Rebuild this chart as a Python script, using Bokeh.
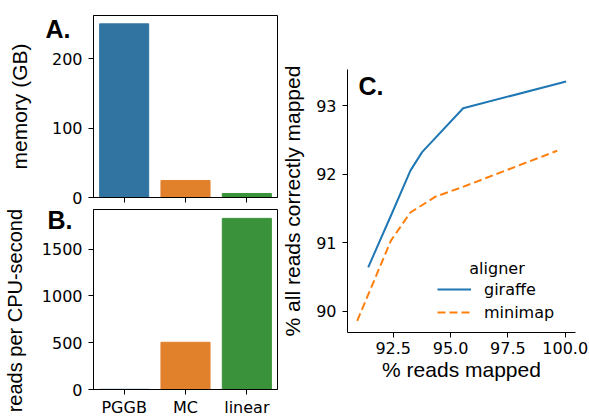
from bokeh.plotting import figure
from bokeh.models import (ColumnDataSource, FactorRange, Range1d, Label, FixedTicker,
                          NumeralTickFormatter, Legend, Title)
from bokeh.layouts import row, column
from bokeh.embed import file_html
from bokeh.resources import INLINE

# ---- data ----
tools = ["PGGB", "MC", "linear"]
memory_gb = [250, 24.5, 5.8]
reads_per_cpu_sec = [2, 505, 1829]
bar_colors = ["#3274a1", "#e1812c", "#3a923a"]

giraffe_mapped = [91.41, 92.46, 93.25, 93.76, 95.55, 100.04]
giraffe_correct = [90.64, 91.44, 92.05, 92.32, 92.96, 93.35]
minimap_mapped = [90.93, 92.40, 93.25, 94.34, 95.51, 99.65]
minimap_correct = [89.86, 91.03, 91.44, 91.67, 91.81, 92.34]

TICK_FONT = "DejaVu Sans"
TICK_SIZE = "16px"
LAB_FONT = "Liberation Sans"
LAB_SIZE = "21px"

LEFT_W = 278


def style_axes(p):
    for ax in p.axis:
        ax.major_label_text_font = TICK_FONT
        ax.major_label_text_font_size = TICK_SIZE
        ax.major_label_text_color = "black"
        ax.axis_label_text_font = LAB_FONT
        ax.axis_label_text_font_size = LAB_SIZE
        ax.axis_label_text_font_style = "normal"
        ax.axis_label_text_color = "black"
        ax.major_tick_in = 0
        ax.major_tick_out = 5
        ax.minor_tick_in = 0
        ax.minor_tick_out = 0
        ax.axis_line_color = "black"
        ax.major_tick_line_color = "black"
    p.grid.visible = False


def panel_letter(txt, offset, standoff):
    return Title(text=txt, align="left", offset=offset, standoff=standoff,
                 vertical_align="bottom", text_font=LAB_FONT, text_font_size="25px",
                 text_font_style="bold", text_color="black")


# ---- panel A ----
srcA = ColumnDataSource(dict(x=tools, top=memory_gb, color=bar_colors))
pA = figure(x_range=FactorRange(*tools), y_range=Range1d(0, 262), title=None,
            width=LEFT_W, height=206, output_backend="svg", toolbar_location=None,
            min_border_left=93, min_border_right=1, min_border_top=15, min_border_bottom=9)
pA.vbar(x="x", top="top", width=0.8, color="color", source=srcA)
style_axes(pA)
pA.yaxis.axis_label = "memory (GB)"
pA.yaxis.ticker = FixedTicker(ticks=[0, 100, 200])
pA.yaxis.major_label_standoff = 6
pA.yaxis.axis_label_standoff = 18
pA.xaxis.major_label_text_font_size = "0px"
pA.xaxis.major_label_text_color = None
pA.xaxis.major_label_standoff = 0
pA.outline_line_color = "black"
pA.outline_line_alpha = 1
pA.add_layout(panel_letter("A.", -48, -54), "above")

# ---- panel B ----
srcB = ColumnDataSource(dict(x=tools, top=reads_per_cpu_sec, color=bar_colors))
pB = figure(x_range=FactorRange(*tools), y_range=Range1d(0, 1924), title=None,
            width=LEFT_W, height=213, output_backend="svg", toolbar_location=None,
            min_border_left=93, min_border_right=1, min_border_top=3, min_border_bottom=27)
pB.vbar(x="x", top="top", width=0.8, color="color", source=srcB)
style_axes(pB)
pB.yaxis.axis_label = "reads per CPU-second\u00a0\u00a0\u00a0\u00a0"
pB.yaxis.axis_label_text_font_size = "20px"
pB.yaxis.ticker = FixedTicker(ticks=[0, 500, 1000, 1500])
pB.yaxis.major_label_standoff = 6
pB.yaxis.axis_label_standoff = 13
pB.xaxis.major_label_standoff = 3
pB.outline_line_color = "black"
pB.outline_line_alpha = 1
pB.add_layout(panel_letter("B.", -46, -49), "above")

# ---- panel C ----
pC = figure(x_range=Range1d(90.507, 100.449), y_range=Range1d(89.69, 93.525), title=None,
            width=589 - LEFT_W, height=419, output_backend="svg", toolbar_location=None,
            min_border_left=347 - LEFT_W, min_border_right=14, min_border_top=69,
            min_border_bottom=87)
rg = pC.line(giraffe_mapped, giraffe_correct, line_color="#1f77b4", line_width=2)
rm = pC.line(minimap_mapped, minimap_correct, line_color="#ff7f0e", line_width=2,
             line_dash="8 4")
style_axes(pC)
pC.outline_line_color = None
pC.xaxis.axis_label = "% reads mapped"
pC.yaxis.axis_label = "% all reads correctly mapped"
pC.xaxis.ticker = FixedTicker(ticks=[92.5, 95.0, 97.5, 100.0])
pC.xaxis.formatter = NumeralTickFormatter(format="0.0")
pC.yaxis.ticker = FixedTicker(ticks=[90, 91, 92, 93])
pC.xaxis.major_label_standoff = 4
pC.xaxis.axis_label_standoff = 1
pC.yaxis.major_label_standoff = 6
pC.yaxis.axis_label_standoff = 9

legend = Legend(items=[("giraffe", [rg]), ("minimap", [rm])], location=(90, 10),
                padding=0, margin=0, border_line_color=None, background_fill_alpha=0,
                glyph_width=34, glyph_height=20, label_height=20, spacing=3,
                label_standoff=13, label_text_font=TICK_FONT,
                label_text_font_size=TICK_SIZE, label_text_color="black")
pC.add_layout(legend, "center")
pC.add_layout(Label(x=149.5, y=64, x_units="screen", y_units="screen", text="aligner",
                    text_font=TICK_FONT, text_font_size=TICK_SIZE, text_color="black",
                    text_align="center", text_baseline="alphabetic"))
pC.add_layout(panel_letter("C.", 11, -60), "above")

layout = row(column(pA, pB), pC)

with open("out.html", "w") as f:
    f.write(file_html(layout, INLINE))
